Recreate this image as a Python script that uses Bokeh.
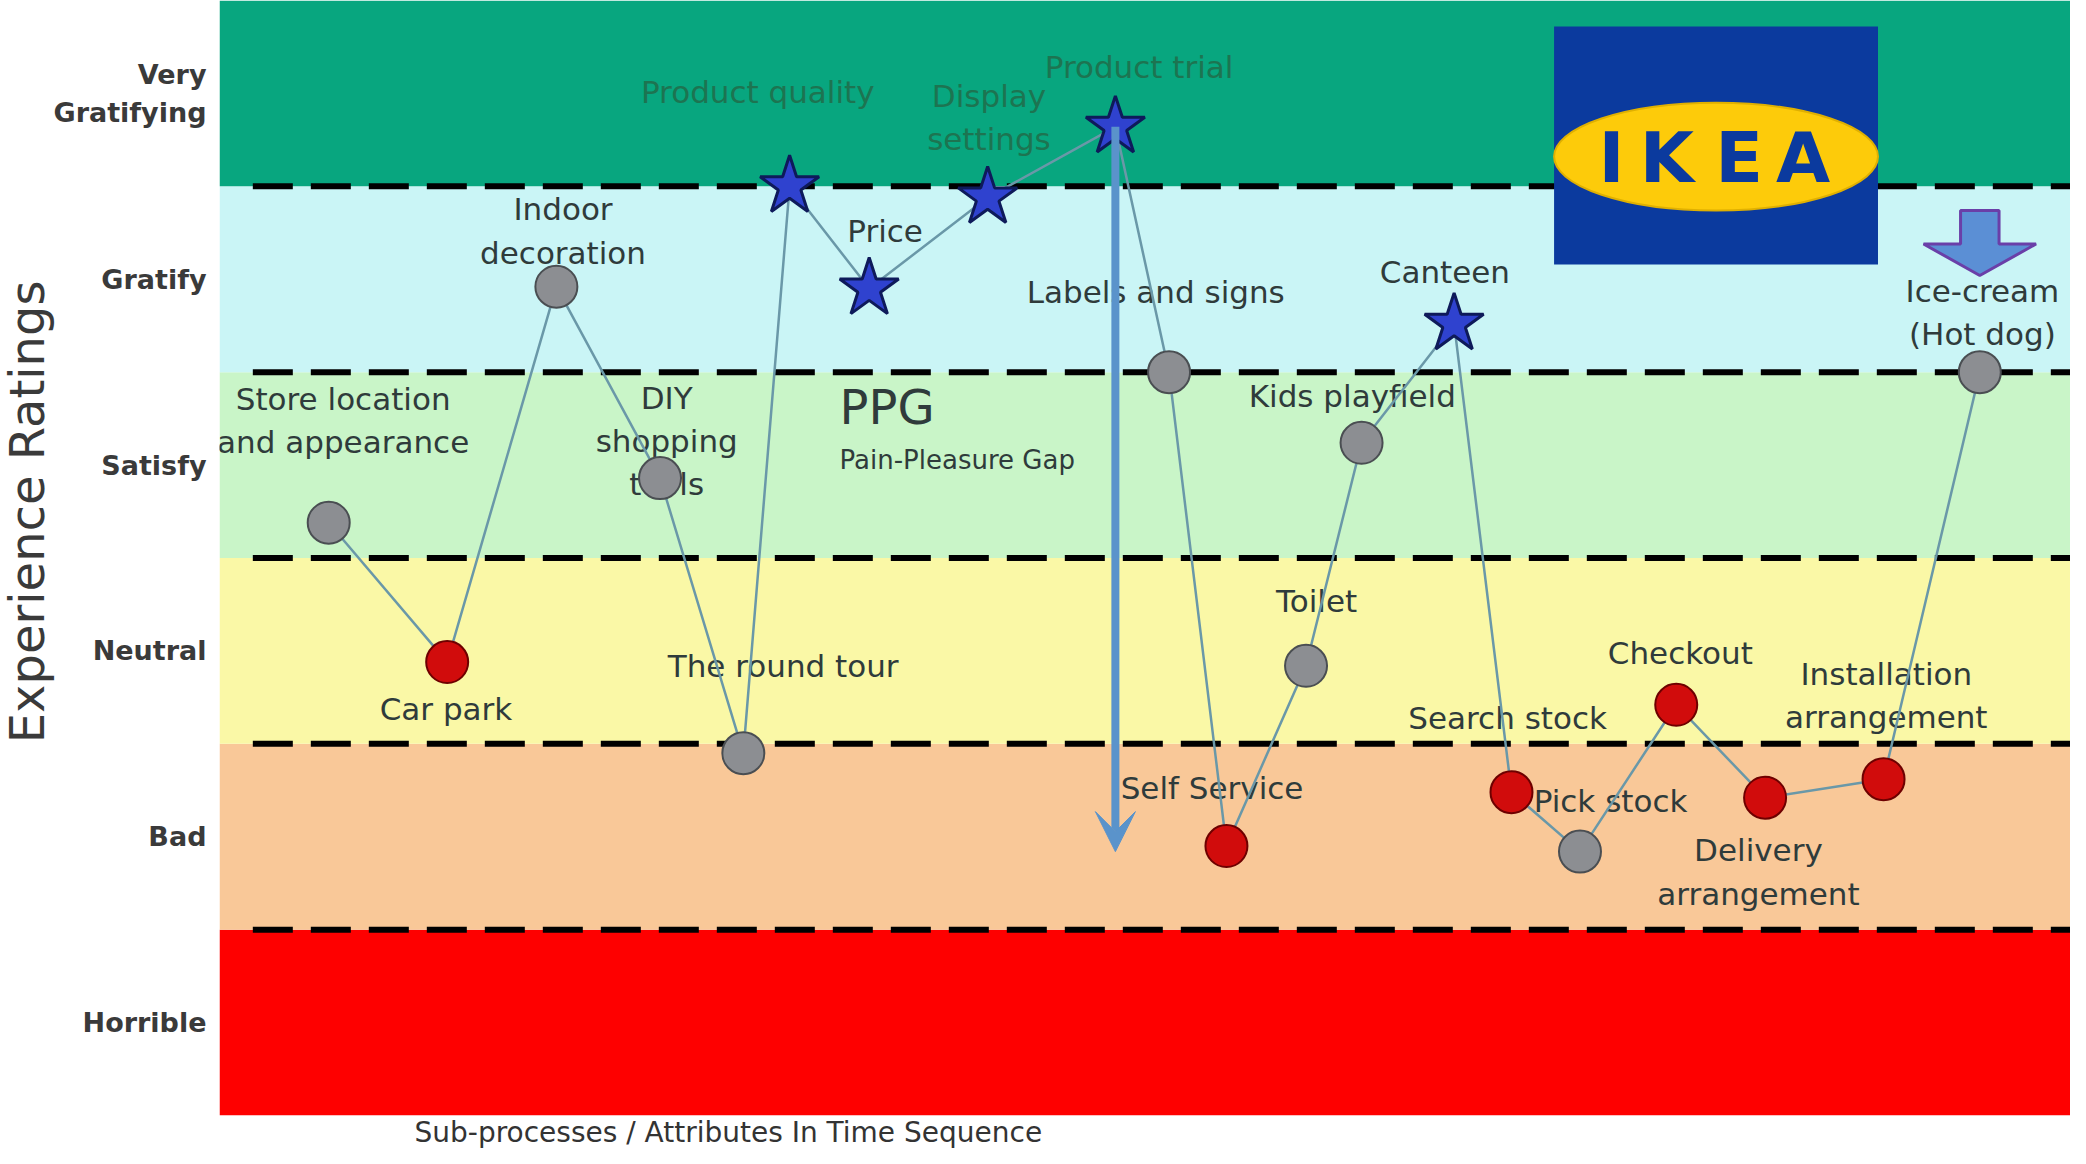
import numpy as np
from bokeh.plotting import figure
from bokeh.models import (ColumnDataSource, FixedTicker, Title, Arrow, VeeHead,
                          Range1d, CDSView, GroupFilter)
from bokeh.core.properties import value
from bokeh.embed import file_html
from bokeh.resources import INLINE

# ---------------- data ----------------
band_names = ["Horrible", "Bad", "Neutral", "Satisfy", "Gratify", "Very\nGratifying"]
band_colors = ["#FE0000", "#F9C898", "#FAF8A6", "#C9F5C8", "#CAF5F6", "#08A67F"]

attributes = ["Store location\nand appearance", "Car  park", "Indoor\ndecoration",
              "DIY\nshopping\ntools", "The round tour", "Product quality", "Price",
              "Display\nsettings", "Product trial", "Labels and signs", "Self Service",
              "Toilet", "Kids playfield", "Canteen", "Search stock", "Pick stock",
              "Checkout", "Delivery\narrangement", "Installation\narrangement",
              "Ice-cream\n(Hot dog)"]
time_pos = [5.9, 12.3, 18.2, 23.8, 28.3, 30.8, 35.1, 41.5, 48.4, 51.3, 54.4,
            58.7, 61.7, 66.7, 69.8, 73.5, 78.7, 83.5, 89.9, 95.1]
rating = [3.19, 2.44, 4.46, 3.43, 1.95, 5.0, 4.45, 4.94, 5.32, 4.0, 1.45,
          2.42, 3.62, 4.26, 1.74, 1.42, 2.21, 1.71, 1.81, 4.0]
kind = ["neutral", "pain", "neutral", "neutral", "neutral", "pleasure", "pleasure",
        "pleasure", "pleasure", "neutral", "pain", "neutral", "neutral", "pleasure",
        "pain", "neutral", "pain", "pain", "pain", "neutral"]

# label placement relative to each point (data units)
label_dx = [0.78, 0.2, 0.36, 0.36, 2.15, -1.72, 0.86, 0.07, 1.28, -0.72, -0.78,
            0.57, -0.5, -0.5, -0.21, 1.65, 0.22, -0.36, 0.15, 0.14]
label_dy = [0.55, -0.25, 0.30, 0.20, 0.47, 0.51, 0.31, 0.43, 0.32, 0.43, 0.31,
            0.35, 0.25, 0.28, 0.40, 0.27, 0.28, -0.40, 0.45, 0.32]

x_title = "Sub-processes / Attributes In Time Sequence"
y_title = "Experience Ratings"

# ---------------- figure ----------------
p = figure(width=2070, height=1148, output_backend="svg", toolbar_location=None,
           x_range=Range1d(0, 100), y_range=Range1d(0, len(band_names)),
           x_axis_location=None,
           min_border_left=212, min_border_right=0, min_border_top=0,
           min_border_bottom=0)
p.outline_line_color = None
p.grid.grid_line_color = None
p.background_fill_color = "white"
p.border_fill_color = "white"

yax = p.yaxis[0]
ticks = [i + 0.5 for i in range(len(band_names))]
yax.ticker = FixedTicker(ticks=ticks)
yax.major_label_overrides = {t: n for t, n in zip(ticks, band_names)}
yax.major_label_text_font = "DejaVu Sans"
yax.major_label_text_font_style = "bold"
yax.major_label_text_font_size = "27px"
yax.major_label_text_color = "#3A3A3A"
yax.major_label_standoff = 7
yax.major_tick_line_color = None
yax.minor_tick_line_color = None
yax.axis_line_color = None

# axis titles as side titles
p.add_layout(Title(text=y_title, align="right", offset=280, standoff=-8,
                   text_font="DejaVu Sans", text_font_size="48px",
                   text_font_style="normal", text_color="#3A3A3A"), "left")
p.add_layout(Title(text=x_title, align="left", offset=195, standoff=-2,
                   vertical_align="middle",
                   text_font="DejaVu Sans", text_font_size="28px",
                   text_font_style="normal", text_color="#333333"), "below")

# bands
nb = len(band_names)
p.quad(left=0, right=100, bottom=list(range(nb)), top=[i + 1 for i in range(nb)],
       fill_color=band_colors, line_color=None)

# labels
lab_col = ["#1D7451" if k == "pleasure" and r >= 4.9 else "#2F3B3B"
           for k, r in zip(kind, rating)]
src = ColumnDataSource(dict(x=time_pos, y=rating, kind=kind, label=attributes,
                            lx=np.array(time_pos) + np.array(label_dx),
                            ly=np.array(rating) + np.array(label_dy),
                            lc=lab_col))
p.text(x="lx", y="ly", text="label", source=src, text_font=value("DejaVu Sans"),
       text_font_size="31px", text_align="center", text_baseline="middle",
       text_color="lc", text_line_height=1.2)

# PPG annotation
p.text(x=[33.5], y=[3.81], text=["PPG"], text_font=value("DejaVu Sans"),
       text_font_size="48px", text_align="left", text_baseline="middle",
       text_color="#2F3B3B")
p.text(x=[33.5], y=[3.53], text=["Pain-Pleasure Gap"], text_font=value("DejaVu Sans"),
       text_font_size="26px", text_align="left", text_baseline="middle",
       text_color="#2F3B3B")

# dashed boundaries
bounds = list(range(1, nb))
p.segment(x0=1.8, y0=bounds, x1=100, y1=bounds, line_color="black", line_width=6,
          line_dash="40 18")

# IKEA logo
p.quad(left=72.1, right=89.6, bottom=4.58, top=5.86, fill_color="#0B3A9E",
       line_color=None)
p.ellipse(x=80.85, y=5.16, width=17.5, height=0.58, fill_color="#FDCB0A",
          line_color="#E0B000", line_width=2)
p.text(x=[75.2, 78.2, 82.1, 85.55], y=[5.15] * 4, text=list("IKEA"),
       text_font=value("DejaVu Sans"), text_font_style="bold", text_font_size="70px",
       text_align="center", text_baseline="middle", text_color="#0B3A9E")

# journey line
p.line(x="x", y="y", source=src, line_color="#6A98A8", line_width=2.5)

# pain-pleasure gap arrow
imax = int(np.argmax(rating))
p.add_layout(Arrow(end=VeeHead(size=40, fill_color="#5A93CB", line_color="#5A93CB"),
                   x_start=time_pos[imax], y_start=rating[imax],
                   x_end=time_pos[imax], y_end=min(rating),
                   line_width=8, line_color="#5A93CB"))

# block arrow above last attribute
xa, ya0 = time_pos[-1], rating[-1]
p.patch(x=[xa - 1.04, xa + 1.04, xa + 1.04, xa + 3.04, xa, xa - 3.04, xa - 1.04],
        y=[ya0 + 0.87, ya0 + 0.87, ya0 + 0.69, ya0 + 0.69, ya0 + 0.52,
           ya0 + 0.69, ya0 + 0.69],
        fill_color="#5B8FD5", line_color="#6A3FA8", line_width=3)

# markers
v_neu = CDSView(filter=GroupFilter(column_name="kind", group="neutral"))
v_pain = CDSView(filter=GroupFilter(column_name="kind", group="pain"))
v_ple = CDSView(filter=GroupFilter(column_name="kind", group="pleasure"))
p.scatter(x="x", y="y", source=src, view=v_neu, marker="circle", size=42,
          fill_color="#8C8E92", line_color="#4A4E52", line_width=2)
p.scatter(x="x", y="y", source=src, view=v_pain, marker="circle", size=42,
          fill_color="#D10C0C", line_color="#6E0000", line_width=2)
p.scatter(x="x", y="y", source=src, view=v_ple, marker="star", size=62,
          fill_color="#2F42CF", line_color="#0E1A5A", line_width=3)

open("out.html", "w").write(file_html(p, INLINE))
